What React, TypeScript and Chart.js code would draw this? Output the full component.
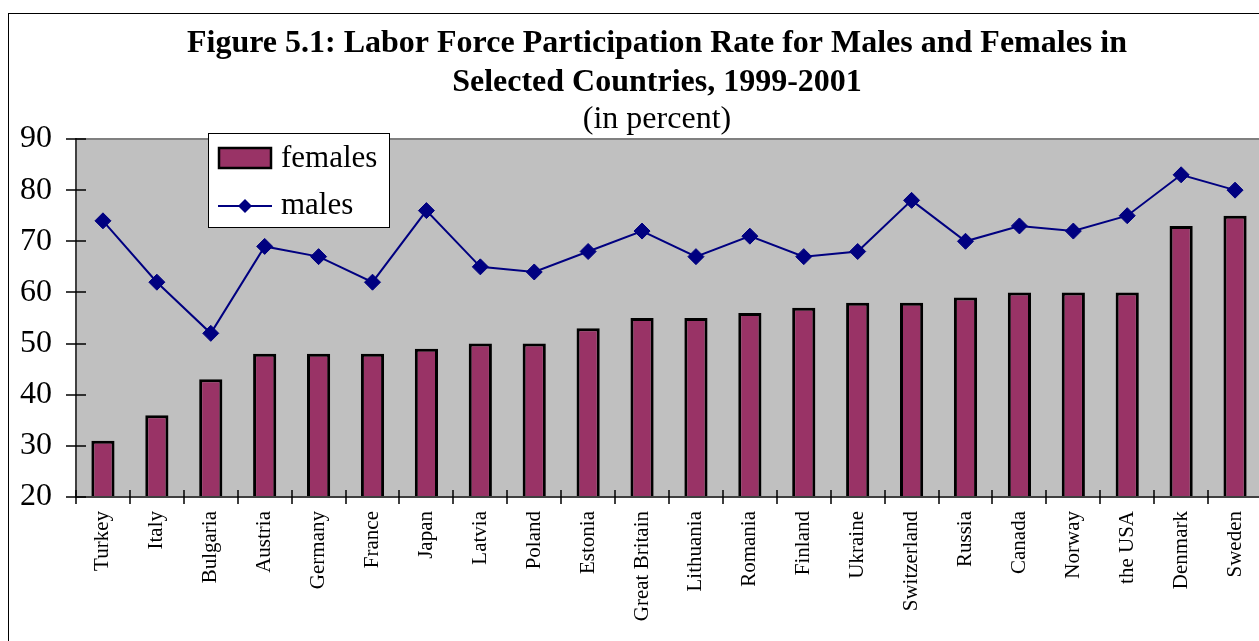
import React, { useEffect, useRef } from "react";
import { Chart, registerables } from "chart.js";

Chart.register(...registerables);

const countries = [
  "Turkey", "Italy", "Bulgaria", "Austria", "Germany", "France", "Japan", "Latvia",
  "Poland", "Estonia", "Great Britain", "Lithuania", "Romania", "Finland", "Ukraine",
  "Switzerland", "Russia", "Canada", "Norway", "the USA", "Denmark", "Sweden",
];
const females = [31, 36, 43, 48, 48, 48, 49, 50, 50, 53, 55, 55, 56, 57, 58, 58, 59, 60, 60, 60, 73, 75];
const males = [74, 62, 52, 69, 67, 62, 76, 65, 64, 68, 72, 67, 71, 67, 68, 78, 70, 73, 72, 75, 83, 80];
const yMin = 20;
const yMax = 90;
const yStep = 10;

const titleLines = [
  "Figure 5.1: Labor Force Participation Rate for Males and Females in",
  "Selected Countries, 1999-2001",
];
const subtitleText = "(in percent)";
const legendLabels = ["females", "males"];

const SERIF = '"Liberation Serif", "Times New Roman", Times, serif';
const FEMALE_COLOR = "#993366";
const MALE_COLOR = "#000080";

const decorPlugin = {
  id: "decor",
  beforeDatasetsDraw(chart: any) {
    const { ctx, chartArea: a } = chart;
    ctx.save();
    ctx.fillStyle = "#C0C0C0";
    ctx.fillRect(a.left, a.top, a.right - a.left, a.bottom - a.top);
    ctx.restore();
  },
  afterDatasetsDraw(chart: any) {
    const { ctx, chartArea: a, scales } = chart;
    ctx.save();
    // plot frame (top / right)
    ctx.strokeStyle = "#808080";
    ctx.lineWidth = 2;
    ctx.beginPath();
    ctx.moveTo(a.left, a.top);
    ctx.lineTo(a.right, a.top);
    ctx.lineTo(a.right, a.bottom);
    ctx.stroke();
    // axes
    ctx.strokeStyle = "#404040";
    ctx.lineWidth = 2;
    ctx.beginPath();
    ctx.moveTo(a.left, a.top - 1);
    ctx.lineTo(a.left, a.bottom);
    ctx.lineTo(a.right, a.bottom);
    ctx.stroke();
    // y ticks (crossing)
    ctx.strokeStyle = "#000";
    ctx.lineWidth = 1.5;
    ctx.beginPath();
    for (let v = yMin; v <= yMax; v += yStep) {
      const y = Math.round(scales.y.getPixelForValue(v));
      ctx.moveTo(a.left - 10, y);
      ctx.lineTo(a.left + 10, y);
    }
    // x ticks (crossing) at category boundaries
    for (let i = 0; i <= countries.length; i++) {
      const x = Math.round(scales.x.getPixelForValue(i - 0.5));
      ctx.moveTo(x, a.bottom - 7);
      ctx.lineTo(x, a.bottom + 7);
    }
    ctx.stroke();
    ctx.restore();
  },
  afterDraw(chart: any) {
    const { ctx } = chart;
    ctx.save();
    // titles
    ctx.fillStyle = "#000";
    ctx.textAlign = "center";
    ctx.textBaseline = "alphabetic";
    ctx.font = `bold 32px ${SERIF}`;
    ctx.fillText(titleLines[0], 648, 38);
    ctx.fillText(titleLines[1], 648, 77);
    ctx.font = `32px ${SERIF}`;
    ctx.fillText(subtitleText, 648, 114);

    // legend box
    const bx = 199, by = 119, bw = 181, bh = 94;
    ctx.fillStyle = "#fff";
    ctx.fillRect(bx, by, bw, bh);
    ctx.strokeStyle = "#000";
    ctx.lineWidth = 1;
    ctx.strokeRect(bx + 0.5, by + 0.5, bw, bh);
    // females swatch
    ctx.fillStyle = FEMALE_COLOR;
    ctx.fillRect(209, 133, 54, 22);
    ctx.strokeStyle = "#000";
    ctx.lineWidth = 2.5;
    ctx.strokeRect(210, 134, 52, 20);
    // males line + diamond
    ctx.strokeStyle = MALE_COLOR;
    ctx.lineWidth = 2;
    ctx.beginPath();
    ctx.moveTo(209, 192);
    ctx.lineTo(263, 192);
    ctx.stroke();
    ctx.fillStyle = MALE_COLOR;
    ctx.beginPath();
    ctx.moveTo(236, 185);
    ctx.lineTo(243, 192);
    ctx.lineTo(236, 199);
    ctx.lineTo(229, 192);
    ctx.closePath();
    ctx.fill();
    // legend text
    ctx.fillStyle = "#000";
    ctx.textAlign = "left";
    ctx.textBaseline = "middle";
    ctx.font = `31px ${SERIF}`;
    ctx.fillText(legendLabels[0], 272, 145);
    ctx.fillText(legendLabels[1], 272, 192);
    ctx.restore();
  },
};

export default function App() {
  const canvasRef = useRef<HTMLCanvasElement | null>(null);

  useEffect(() => {
    const canvas = canvasRef.current;
    if (!canvas) return;
    const chart = new Chart(canvas, {
      data: {
        labels: countries,
        datasets: [
          {
            type: "line",
            label: legendLabels[1],
            data: males,
            borderColor: MALE_COLOR,
            backgroundColor: MALE_COLOR,
            borderWidth: 2,
            pointStyle: "rectRot",
            pointRadius: 8,
            pointBorderWidth: 1,
            pointBackgroundColor: MALE_COLOR,
            pointBorderColor: MALE_COLOR,
            tension: 0,
            order: 0,
          },
          {
            type: "bar",
            label: legendLabels[0],
            data: females,
            backgroundColor: FEMALE_COLOR,
            borderColor: "#000",
            borderWidth: 3,
            borderSkipped: false,
            barPercentage: 0.43,
            categoryPercentage: 1,
            order: 1,
          },
        ] as any,
      },
      options: {
        responsive: false,
        animation: false,
        layout: { padding: { left: 0, right: 43, top: 125, bottom: 14 } },
        plugins: {
          legend: { display: false },
          tooltip: { enabled: false },
          title: { display: false },
        },
        scales: {
          x: {
            type: "category",
            offset: true,
            grid: { display: false, drawTicks: false, tickLength: 0 },
            border: { display: false },
            ticks: {
              autoSkip: false,
              minRotation: 90,
              maxRotation: 90,
              padding: 14,
              color: "#000",
              font: { family: SERIF, size: 21 },
            },
            afterFit: (s: any) => {
              s.height = 130;
            },
          },
          y: {
            min: yMin,
            max: yMax,
            grid: { display: false, drawTicks: false, tickLength: 0 },
            border: { display: false },
            ticks: {
              stepSize: yStep,
              padding: 24,
              color: "#000",
              font: { family: SERIF, size: 32 },
            },
            afterFit: (s: any) => {
              s.width = 67;
            },
          },
        },
      } as any,
      plugins: [decorPlugin],
    });
    return () => chart.destroy();
  }, []);

  return (
    <div
      style={{
        position: "fixed",
        left: 0,
        top: 0,
        width: 1259,
        height: 641,
        overflow: "hidden",
        background: "#fff",
      }}
    >
      <div
        style={{
          position: "absolute",
          left: 8,
          top: 13,
          width: 1296,
          height: 700,
          border: "1px solid #000",
        }}
      >
        <canvas ref={canvasRef} width={1296} height={627} style={{ display: "block", width: 1296, height: 627 }} />
      </div>
    </div>
  );
}
